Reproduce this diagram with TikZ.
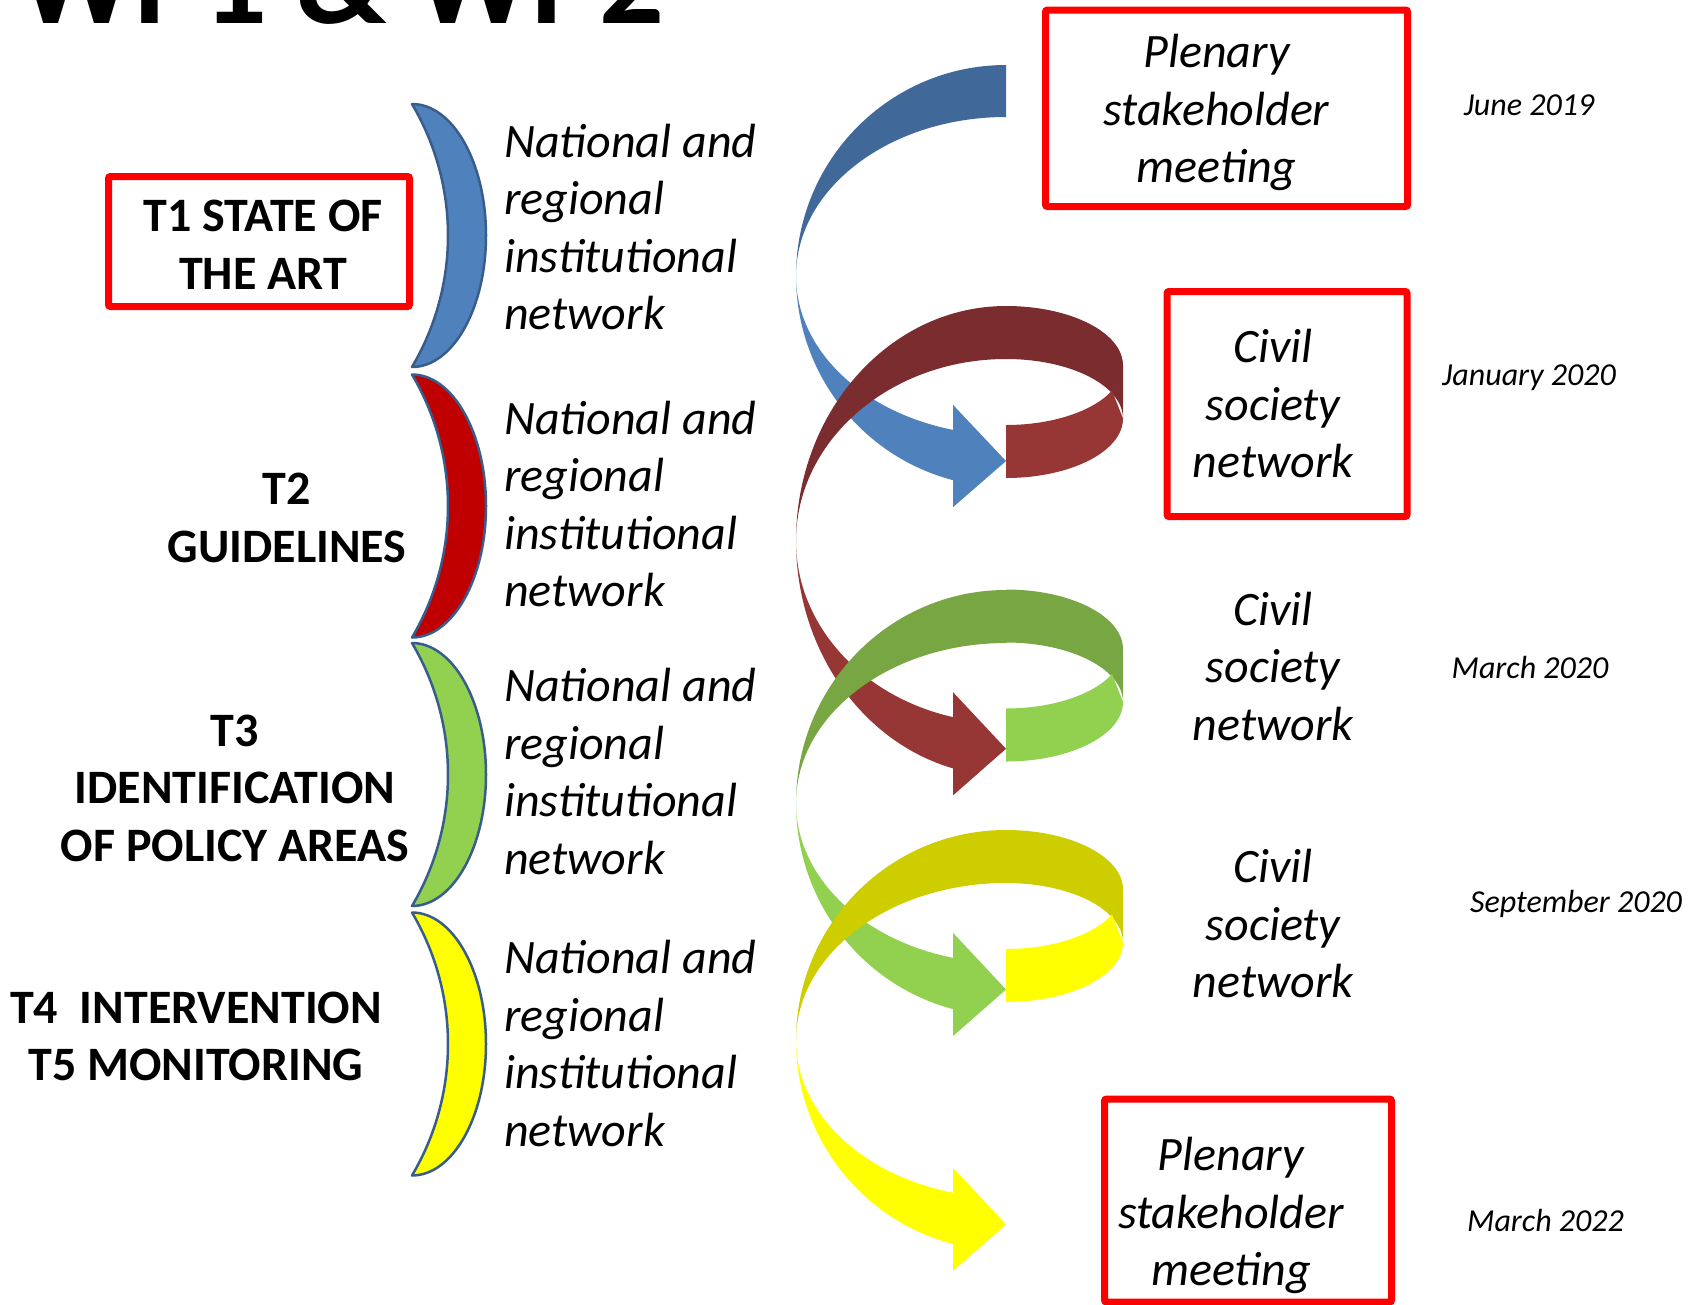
\documentclass[tikz,border=0pt]{standalone}
\usepackage{fontspec}
\setmainfont{Carlito}
\definecolor{blueD}{RGB}{64,105,154}
\definecolor{blueL}{RGB}{79,129,189}
\definecolor{redD}{RGB}{122,44,46}
\definecolor{redL}{RGB}{150,55,54}
\definecolor{greenD}{RGB}{119,166,66}
\definecolor{greenL}{RGB}{146,208,80}
\definecolor{yelD}{RGB}{206,205,0}
\definecolor{yelL}{RGB}{255,255,0}
\definecolor{moonRed}{RGB}{192,0,0}
\definecolor{moonLine}{RGB}{56,93,138}
\definecolor{boxred}{RGB}{255,0,0}
% left loop of a ribbon arrow: #1 centre y, #2 outer y radius, #3 inner y radius, #4 dark, #5 light
\newcommand{\wpLoop}[5]{%
  \fill[#4] (1006,{#1+#2}) arc[start angle=90,end angle=180,x radius=210,y radius=#2]
     arc[start angle=180,end angle=90,x radius=210,y radius=#3] -- cycle;
  \fill[#5] (796,#1) arc[start angle=180,end angle=255.38,x radius=210,y radius=#2]
     -- (953,{#1-0.9677*#2-27}) -- (1006,{#1-0.48385*(#2+#3)-6})
     -- (953,{#1-0.9677*#3+25}) -- (953,{#1-0.9677*#3})
     arc[start angle=255.38,end angle=180,x radius=210,y radius=#3] -- cycle;
}
% right ring of a ribbon: #1 centre y of upper ellipse, #2 dark, #3 light
\newcommand{\wpRing}[3]{%
  \fill[#2] (1006,{#1+59.5}) arc[start angle=90,end angle=0,x radius=117,y radius=59.5]
     -- (1123,{#1-53}) arc[start angle=0,end angle=90,x radius=117,y radius=59.5] -- cycle;
  \fill[#3] (1006,{#1-59.5}) arc[start angle=270,end angle=335,x radius=117,y radius=59.5]
     -- (1123,{#1-53}) arc[start angle=0,end angle=-90,x radius=117,y radius=59.5] -- cycle;
}
% crescent: #1 top y (downwards), #2 fill
\newcommand{\wpMoon}[2]{%
  \filldraw[fill=#2,draw=moonLine,line width=2.5pt,line join=round]
    (412,{-#1}) arc[start angle=90,end angle=-90,x radius=74,y radius=131.5]
    arc[start angle=-30.62,end angle=30.62,radius=258.2] -- cycle;
}
\tikzset{
  tlabel/.style={font=\fontsize{48}{57.5}\selectfont\bfseries,align=center,inner sep=0pt},
  netlabel/.style={font=\fontsize{48}{57.5}\selectfont\itshape,align=left,anchor=west,inner sep=0pt},
  rlabel/.style={font=\fontsize{48}{57.5}\selectfont\itshape,align=center,inner sep=0pt},
  datelabel/.style={font=\fontsize{32}{38}\selectfont\itshape,inner sep=0pt},
  redbox/.style={draw=boxred,line width=7pt,rounded corners=2pt,inner sep=0pt},
}
\begin{document}
\begin{tikzpicture}[x=1pt,y=1pt]
\useasboundingbox (0,0) rectangle (1697,-1304);
\clip (0,0) rectangle (1697,-1304);
\fill[white] (0,0) rectangle (1697,-1304);

% title (cut off at top)
\node[font=\fontsize{128}{150}\selectfont\bfseries,anchor=base west,inner sep=0pt] (title) at (18,-23) {WP1 \& WP2};

% crescents
\wpMoon{104}{blueL}
\wpMoon{374.5}{moonRed}
\wpMoon{643}{greenL}
\wpMoon{912.5}{yelL}

% left labels
\node[redbox,minimum width=301pt,minimum height=130pt] (t1box) at (259,-241.5) {};
\node[tlabel] (t1) at (263,-245) {T1 STATE OF\\THE ART};
\node[tlabel] (t2) at (287,-518) {T2\\GUIDELINES};
\node[tlabel] (t3) at (235,-788) {T3\\IDENTIFICATION\\OF POLICY AREAS};
\node[tlabel] (t4) at (196,-1036.5) {T4~~INTERVENTION\\T5 MONITORING};

% institutional network labels
\node[netlabel] (n1) at (504,-227) {National and\\regional\\institutional\\network};
\node[netlabel] (n2) at (504,-504) {National and\\regional\\institutional\\network};
\node[netlabel] (n3) at (504,-771.3) {National and\\regional\\institutional\\network};
\node[netlabel] (n4) at (504,-1043.5) {National and\\regional\\institutional\\network};

% spiral ribbon arrows
\wpLoop{-276}{211}{159}{blueD}{blueL}
\wpRing{-365.5}{redD}{redL}
\wpLoop{-541}{235}{182}{redD}{redL}
\wpRing{-649}{greenD}{greenL}
\wpLoop{-803}{213}{160}{greenD}{greenL}
\wpRing{-889.5}{yelD}{yelL}
\wpLoop{-1040.4}{210.4}{157.4}{yelD}{yelL}

% right boxes and labels
\node[redbox,minimum width=362pt,minimum height=196.5pt] (p1box) at (1226.5,-108.25) {};
\node[rlabel] (p1) at (1216.5,-112.5) {Plenary\\stakeholder\\meeting};
\node[redbox,minimum width=240pt,minimum height=225pt] (c1box) at (1287,-404) {};
\node[rlabel] (c1) at (1273,-403.7) {Civil\\society\\network};
\node[rlabel] (c2) at (1273,-666.4) {Civil\\society\\network};
\node[rlabel] (c3) at (1273,-923.7) {Civil\\society\\network};
\node[redbox,minimum width=287pt,minimum height=203pt] (p2box) at (1248,-1200.5) {};
\node[rlabel] (p2) at (1231,-1215.5) {Plenary\\stakeholder\\meeting};

% dates
\node[datelabel] (d1) at (1529,-105) {June 2019};
\node[datelabel] (d2) at (1529,-378) {January 2020};
\node[datelabel] (d3) at (1530,-667) {March 2020};
\node[datelabel] (d4) at (1576,-904) {September 2020};
\node[datelabel] (d5) at (1545.5,-1220) {March 2022};
\end{tikzpicture}
\end{document}
